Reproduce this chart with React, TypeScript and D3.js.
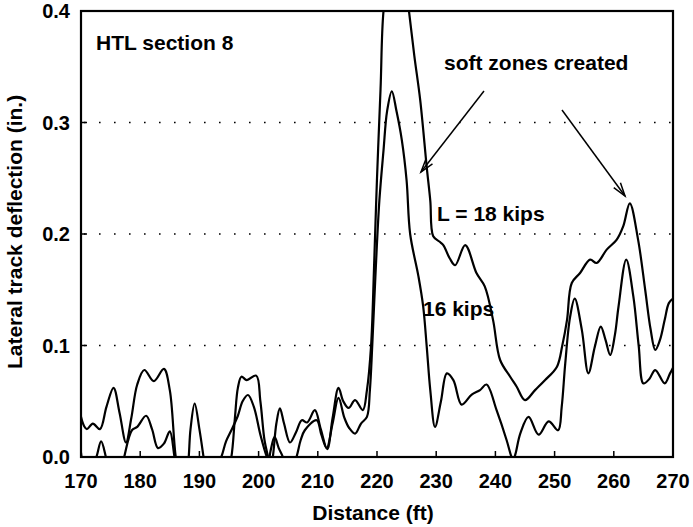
import React from "react";
import * as d3 from "d3";

// Lateral track deflection along HTL section 8, two wheel loads
const distance18 = [170, 170.5, 171, 172, 173.2, 174.3, 175.5, 176.5, 177.6, 178.5, 179.5, 180.7, 182.3, 184, 185, 186, 187, 188, 188.5, 189.2, 190, 190.7, 191.5, 193, 194.5, 195.4, 196, 196.5, 197.1, 198, 199.6, 200.3, 201, 201.6, 202, 202.4, 203, 203.6, 204.3, 205.3, 206.3, 207.3, 208.2, 209.5, 210.5, 211.6, 212.5, 213.5, 214.3, 215.2, 216.3, 217.6, 218.3, 219, 219.5, 220, 220.6, 221.1, 222.2, 223.3, 224.4, 225.4, 226.3, 227.3, 228.4, 229, 229.5, 230.6, 231.2, 232.3, 233.2, 234.9, 236.8, 238.2, 239.6, 240.8, 242.5, 243.6, 245, 246.7, 248.4, 250.4, 251.3, 252.1, 252.9, 254.3, 256, 257.1, 258.8, 260.5, 261.6, 262.7, 264.1, 265.3, 266.2, 267, 267.8, 268.6, 269.3, 270];
const deflection18 = [0.036, 0.028, 0.025, 0.030, 0.025, 0.045, 0.062, 0.040, 0.013, 0.035, 0.065, 0.078, 0.068, 0.079, 0.060, 0.0, -0.03, -0.01, 0.025, 0.048, 0.025, 0.0, -0.03, -0.03, -0.02, 0.0, 0.035, 0.062, 0.072, 0.069, 0.073, 0.05, 0.015, 0.0, -0.01, 0.0, 0.03, 0.0436, 0.03, 0.013, 0.022, 0.033, 0.031, 0.042, 0.025, 0.007, 0.035, 0.062, 0.05, 0.044, 0.051, 0.042, 0.06, 0.1, 0.17, 0.25, 0.33, 0.40, 0.44, 0.46, 0.44, 0.40, 0.36, 0.32, 0.26, 0.23, 0.198, 0.193, 0.19, 0.178, 0.172, 0.19, 0.165, 0.153, 0.123, 0.087, 0.072, 0.063, 0.051, 0.06, 0.069, 0.081, 0.1, 0.123, 0.156, 0.165, 0.177, 0.174, 0.186, 0.195, 0.207, 0.2275, 0.195, 0.15, 0.115, 0.096, 0.105, 0.123, 0.138, 0.142];

const distance16 = [170, 170.7, 171.8, 172.6, 173.4, 174.2, 175, 176.5, 177.3, 178.6, 179.5, 181, 182, 183, 184, 185, 185.8, 186.5, 188, 190, 192, 193.7, 194.5, 195.4, 196.5, 197.3, 198.2, 199.2, 200.3, 201.4, 201.7, 202, 202.7, 203.4, 204.1, 205, 206.4, 207.1, 207.8, 209.8, 210.6, 211.5, 212.5, 213.5, 214.5, 215.3, 216.3, 217.3, 218.3, 218.8, 219.2, 219.8, 220.4, 221.1, 221.7, 222.5, 223.3, 224.2, 225, 225.6, 227, 227.8, 228.4, 229, 229.8, 230.8, 231.8, 232.9, 234.3, 236, 237.4, 238.5, 240.2, 241.9, 242.6, 243, 243.4, 244.2, 245.6, 247.3, 249, 250.6, 251.2, 251.8, 252.6, 253.4, 254.6, 255.7, 256.8, 257.8, 258.6, 259.4, 260.2, 260.8, 262.1, 263.3, 264.2, 265, 266, 267, 268.6, 269.5, 270];
const deflection16 = [0.004, -0.01, -0.01, 0.0, 0.014, 0.0, -0.02, -0.02, 0.0, 0.024, 0.027, 0.037, 0.025, 0.008, 0.012, 0.023, 0.0, -0.02, -0.02, -0.03, -0.02, 0.0, 0.014, 0.024, 0.037, 0.05, 0.0556, 0.045, 0.02, 0.0, -0.003, 0.005, 0.018, 0.008, 0.0, -0.02, 0.0, 0.015, 0.024, 0.033, 0.02, 0.008, 0.03, 0.053, 0.035, 0.026, 0.021, 0.03, 0.036, 0.06, 0.1, 0.17, 0.23, 0.275, 0.31, 0.328, 0.31, 0.284, 0.248, 0.2, 0.162, 0.135, 0.099, 0.06, 0.027, 0.05, 0.075, 0.069, 0.047, 0.056, 0.06, 0.065, 0.042, 0.015, 0.002, -0.003, 0.003, 0.021, 0.036, 0.02, 0.032, 0.024, 0.045, 0.084, 0.125, 0.142, 0.114, 0.075, 0.099, 0.117, 0.105, 0.0915, 0.11, 0.135, 0.177, 0.144, 0.1, 0.066, 0.07, 0.078, 0.066, 0.075, 0.08];

const xTicks = [170, 180, 190, 200, 210, 220, 230, 240, 250, 260, 270];
const yTicks = [0.0, 0.1, 0.2, 0.3, 0.4];
const gridValues = [0.1, 0.2, 0.3];

const W = 693;
const H = 527;
const left = 81;
const right = 673;
const top = 11;
const bottom = 457;
const FONT = "'Liberation Sans', Arial, Helvetica, sans-serif";

export default function App() {
  const x = d3.scaleLinear().domain([170, 270]).range([left, right]);
  const y = d3.scaleLinear().domain([0, 0.4]).range([bottom, top]);

  const line = d3
    .line<[number, number]>()
    .x((d) => x(d[0]))
    .y((d) => y(d[1]))
    .curve(d3.curveCatmullRom.alpha(0.5));

  const pts18 = distance18.map((d, i) => [d, deflection18[i]] as [number, number]);
  const pts16 = distance16.map((d, i) => [d, deflection16[i]] as [number, number]);

  const arrowHead = (x1: number, y1: number, x2: number, y2: number) => {
    const ang = Math.atan2(y2 - y1, x2 - x1);
    const len = 14;
    const spread = 0.3;
    const a1 = ang + Math.PI - spread;
    const a2 = ang + Math.PI + spread;
    return `M${x2 + len * Math.cos(a1)},${y2 + len * Math.sin(a1)}L${x2},${y2}L${x2 + len * Math.cos(a2)},${y2 + len * Math.sin(a2)}`;
  };

  const arrows = [
    [484, 91, 421, 172],
    [562, 110, 625, 196],
  ];

  return (
    <svg
      width={W}
      height={H}
      style={{ position: "absolute", left: 0, top: 0, background: "#fff" }}
      fontFamily={FONT}
    >
      <defs>
        <clipPath id="plot-clip">
          <rect x={left} y={top} width={right - left} height={bottom - top} />
        </clipPath>
      </defs>

      {/* dotted reference lines */}
      {gridValues.map((v) => (
        <line
          key={v}
          x1={left + 3}
          x2={right}
          y1={y(v)}
          y2={y(v)}
          stroke="#000"
          strokeWidth={1.6}
          strokeDasharray="1.6,13.4"
        />
      ))}

      {/* deflection curves */}
      <g clipPath="url(#plot-clip)" fill="none" stroke="#000" strokeWidth={2.2} strokeLinejoin="round">
        <path d={line(pts18) ?? ""} />
        <path d={line(pts16) ?? ""} />
      </g>

      {/* frame */}
      <rect x={left} y={top} width={right - left} height={bottom - top} fill="none" stroke="#000" strokeWidth={2.2} />

      {/* ticks */}
      {xTicks.map((t) => (
        <line key={"xt" + t} x1={x(t)} x2={x(t)} y1={bottom} y2={bottom - 6} stroke="#000" strokeWidth={1.5} />
      ))}
      {yTicks.map((t) => (
        <line key={"yt" + t} x1={left} x2={left + 6} y1={y(t)} y2={y(t)} stroke="#000" strokeWidth={1.5} />
      ))}

      {/* tick labels */}
      <g fontSize={20} fontWeight="bold" fill="#000">
        {xTicks.map((t) => (
          <text key={"xl" + t} x={x(t)} y={487.5} textAnchor="middle">
            {t}
          </text>
        ))}
        {yTicks.map((t) => (
          <text key={"yl" + t} x={70} y={y(t) + 7.3} textAnchor="end">
            {t.toFixed(1)}
          </text>
        ))}
      </g>

      {/* axis titles */}
      <g fontSize={21} fontWeight="bold" fill="#000">
        <text x={373} y={520} textAnchor="middle">
          Distance (ft)
        </text>
        <text transform={`translate(22,232) rotate(-90)`} textAnchor="middle">
          Lateral track deflection (in.)
        </text>
      </g>

      {/* annotations */}
      <g fontSize={21} fontWeight="bold" fill="#000">
        <text x={96} y={50}>HTL section 8</text>
        <text x={444} y={70}>soft zones created</text>
        <text x={437} y={221}>L = 18 kips</text>
        <text x={423} y={316}>16 kips</text>
      </g>

      {arrows.map(([x1, y1, x2, y2], i) => (
        <g key={"ar" + i} fill="none" stroke="#000" strokeWidth={1.5}>
          <line x1={x1} y1={y1} x2={x2} y2={y2} />
          <path d={arrowHead(x1, y1, x2, y2)} />
        </g>
      ))}
    </svg>
  );
}
